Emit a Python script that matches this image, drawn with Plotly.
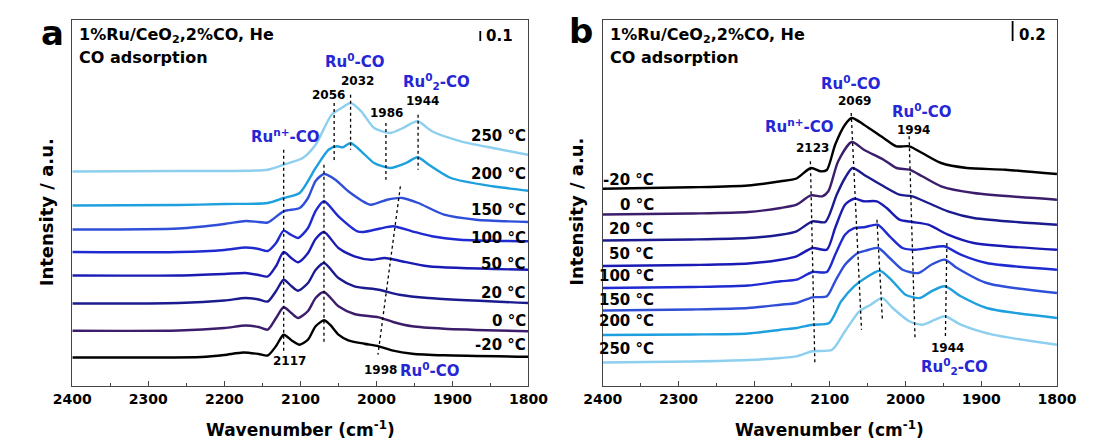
import plotly.graph_objects as go

# ---------------- data ----------------
TEMPS = ["-20", "0", "20", "50", "100", "150", "200", "250"]
COLORS = ["#000000", "#3b1d6b", "#1b1b8f", "#1a1ab5", "#1f2bd0", "#2f4fd8", "#1ea0df", "#8ccfee"]
TICK_VALS = [2400, 2300, 2200, 2100, 2000, 1900, 1800]

# panel a  (wavenumber cm-1, stacked intensity a.u.)
a_wn_m20 = [2400, 2300, 2230, 2200, 2175, 2155, 2143, 2132, 2122, 2111, 2101, 2090, 2080, 2069, 2061, 2050, 2037, 2016, 1997, 1978, 1953, 1911, 1800]
a_int_m20 = [0.285, 0.285, 0.29, 0.31, 0.335, 0.32, 0.305, 0.40, 0.513, 0.453, 0.413, 0.463, 0.597, 0.657, 0.613, 0.513, 0.457, 0.423, 0.397, 0.353, 0.323, 0.307, 0.293]
a_wn_0 = [2400, 2260, 2200, 2172, 2155, 2143, 2132, 2122, 2112, 2103, 2090, 2080, 2069, 2050, 2029, 1997, 1978, 1953, 1911, 1800]
a_int_0 = [0.553, 0.555, 0.58, 0.605, 0.59, 0.563, 0.68, 0.787, 0.73, 0.68, 0.75, 0.88, 0.94, 0.797, 0.72, 0.687, 0.64, 0.597, 0.573, 0.547]
a_wn_20 = [2400, 2260, 2200, 2172, 2155, 2143, 2132, 2122, 2112, 2103, 2090, 2080, 2069, 2050, 2029, 1997, 1970, 1932, 1800]
a_int_20 = [0.825, 0.83, 0.855, 0.88, 0.865, 0.845, 0.95, 1.063, 1.0, 0.953, 1.03, 1.16, 1.23, 1.08, 0.997, 0.963, 0.913, 0.88, 0.83]
a_wn_50 = [2400, 2260, 2200, 2172, 2155, 2143, 2132, 2122, 2112, 2103, 2090, 2080, 2069, 2050, 2029, 2007, 1989, 1970, 1932, 1800]
a_int_50 = [1.105, 1.105, 1.12, 1.13, 1.11, 1.095, 1.20, 1.34, 1.28, 1.237, 1.33, 1.47, 1.54, 1.38, 1.297, 1.263, 1.28, 1.253, 1.197, 1.163]
a_wn_100 = [2400, 2260, 2200, 2172, 2155, 2143, 2132, 2122, 2112, 2103, 2090, 2080, 2069, 2050, 2025, 2017, 1995, 1978, 1953, 1927, 1890, 1800]
a_int_100 = [1.34, 1.34, 1.36, 1.385, 1.37, 1.35, 1.43, 1.553, 1.51, 1.48, 1.58, 1.75, 1.847, 1.697, 1.547, 1.54, 1.575, 1.597, 1.547, 1.497, 1.463, 1.447]
a_wn_150 = [2400, 2260, 2200, 2172, 2155, 2143, 2122, 2101, 2090, 2080, 2069, 2054, 2037, 2008, 1986, 1966, 1945, 1911, 1869, 1800]
a_int_150 = [1.565, 1.575, 1.62, 1.65, 1.64, 1.635, 1.747, 1.78, 1.88, 2.05, 2.12, 2.063, 1.947, 1.813, 1.863, 1.88, 1.83, 1.713, 1.663, 1.64]
a_wn_200 = [2400, 2260, 2200, 2143, 2122, 2101, 2080, 2063, 2052, 2044, 2034, 2020, 2003, 1982, 1961, 1946, 1931, 1902, 1847, 1800]
a_int_200 = [1.805, 1.81, 1.82, 1.83, 1.88, 1.93, 2.18, 2.363, 2.397, 2.387, 2.43, 2.347, 2.23, 2.18, 2.23, 2.287, 2.213, 2.08, 1.997, 1.953]
a_wn_250 = [2400, 2260, 2200, 2143, 2122, 2097, 2080, 2059, 2046, 2034, 2020, 2003, 1982, 1965, 1946, 1927, 1889, 1847, 1800]
a_int_250 = [2.145, 2.15, 2.15, 2.163, 2.213, 2.28, 2.413, 2.713, 2.78, 2.83, 2.747, 2.58, 2.53, 2.58, 2.647, 2.547, 2.447, 2.38, 2.313]

# panel b
b_wn_m20 = [2400, 2283, 2208, 2165, 2144, 2125, 2112, 2104, 2093, 2080, 2071, 2055, 2029, 2012, 1995, 1978, 1953, 1919, 1868, 1800]
b_int_m20 = [1.973, 1.987, 2.005, 2.047, 2.075, 2.18, 2.147, 2.16, 2.413, 2.613, 2.68, 2.613, 2.48, 2.397, 2.397, 2.33, 2.23, 2.18, 2.163, 2.12]
b_wn_0 = [2400, 2283, 2208, 2165, 2144, 2125, 2110, 2102, 2089, 2071, 2055, 2029, 2012, 1995, 1978, 1953, 1910, 1800]
b_int_0 = [1.715, 1.725, 1.74, 1.78, 1.813, 1.907, 1.897, 1.947, 2.247, 2.44, 2.363, 2.263, 2.18, 2.163, 2.097, 1.997, 1.93, 1.863]
b_wn_20 = [2400, 2283, 2208, 2165, 2144, 2123, 2106, 2091, 2080, 2070, 2055, 2029, 2008, 1991, 1970, 1944, 1910, 1800]
b_int_20 = [1.455, 1.465, 1.48, 1.513, 1.547, 1.647, 1.64, 1.913, 2.08, 2.18, 2.113, 1.997, 1.913, 1.897, 1.83, 1.747, 1.68, 1.613]
b_wn_50 = [2400, 2283, 2208, 2165, 2144, 2123, 2104, 2093, 2080, 2068, 2055, 2038, 2025, 2008, 1991, 1970, 1944, 1910, 1800]
b_int_50 = [1.20, 1.21, 1.225, 1.263, 1.297, 1.38, 1.363, 1.58, 1.813, 1.873, 1.847, 1.847, 1.78, 1.663, 1.64, 1.613, 1.513, 1.43, 1.363]
b_wn_100 = [2400, 2283, 2208, 2165, 2144, 2123, 2104, 2093, 2080, 2068, 2055, 2037, 2021, 2004, 1987, 1970, 1949, 1927, 1893, 1800]
b_int_100 = [0.98, 0.99, 1.005, 1.047, 1.063, 1.14, 1.14, 1.313, 1.513, 1.58, 1.587, 1.613, 1.497, 1.38, 1.363, 1.38, 1.397, 1.313, 1.23, 1.163]
b_wn_150 = [2400, 2283, 2208, 2165, 2144, 2123, 2104, 2093, 2080, 2063, 2053, 2036, 2021, 2004, 1983, 1966, 1948, 1932, 1893, 1800]
b_int_150 = [0.755, 0.765, 0.78, 0.813, 0.83, 0.887, 0.897, 1.047, 1.213, 1.33, 1.353, 1.38, 1.28, 1.163, 1.13, 1.213, 1.263, 1.18, 1.03, 0.93]
b_wn_200 = [2400, 2283, 2208, 2165, 2144, 2123, 2101, 2085, 2068, 2053, 2034, 2017, 2000, 1981, 1966, 1948, 1927, 1893, 1800]
b_int_200 = [0.51, 0.515, 0.525, 0.563, 0.58, 0.613, 0.63, 0.847, 0.997, 1.08, 1.153, 1.047, 0.913, 0.88, 0.947, 0.997, 0.897, 0.78, 0.68]
b_wn_250 = [2400, 2283, 2208, 2165, 2144, 2123, 2097, 2080, 2061, 2046, 2031, 2017, 1995, 1978, 1961, 1948, 1927, 1885, 1800]
b_int_250 = [0.235, 0.245, 0.26, 0.28, 0.297, 0.347, 0.363, 0.547, 0.747, 0.813, 0.88, 0.78, 0.647, 0.613, 0.663, 0.697, 0.613, 0.513, 0.413]

# temperature label heights (intensity) for each panel
a_label_int = [0.413, 0.647, 0.93, 1.22, 1.48, 1.763, 2.12, 2.497]
b_label_int = [2.063, 1.813, 1.573, 1.32, 1.097, 0.863, 0.647, 0.373]

# peak guide lines: (wn_top, int_top, wn_bottom, int_bottom)
a_guides = [(2122, 2.363, 2122, 0.347), (2069, 2.213, 2069, 0.43), (2055.6, 2.83, 2055.6, 2.23),
            (2034, 2.913, 2034, 2.363), (1987.5, 2.63, 1987.5, 2.063), (1945.2, 2.713, 1945.2, 2.163),
            (1968.5, 1.997, 1998, 0.313)]
b_guides = [(2125.7, 2.247, 2119.8, 0.23), (2071.8, 2.73, 2058.2, 0.563), (1995.3, 2.497, 1987.5, 0.48),
            (2037.8, 1.663, 2030.6, 0.663), (1945.4, 1.43, 1947.4, 0.48)]

panel_a = [(a_wn_m20, a_int_m20), (a_wn_0, a_int_0), (a_wn_20, a_int_20), (a_wn_50, a_int_50),
           (a_wn_100, a_int_100), (a_wn_150, a_int_150), (a_wn_200, a_int_200), (a_wn_250, a_int_250)]
panel_b = [(b_wn_m20, b_int_m20), (b_wn_0, b_int_0), (b_wn_20, b_int_20), (b_wn_50, b_int_50),
           (b_wn_100, b_int_100), (b_wn_150, b_int_150), (b_wn_200, b_int_200), (b_wn_250, b_int_250)]

# ---------------- figure ----------------
W, H = 1095, 443
FONT = "DejaVu Sans"
BLUE = "#2626d4"


def px(x):
    return x / W


def py(y):
    return 1 - y / H


fig = go.Figure()

for panel, (xa, ya) in ((panel_a, ("x", "y")), (panel_b, ("x2", "y2"))):
    for (wn, inten), col in zip(panel, COLORS):
        fig.add_trace(go.Scatter(x=wn, y=inten, mode="lines", xaxis=xa, yaxis=ya,
                                 line=dict(color=col, width=2.4, shape="spline", smoothing=0.7),
                                 hoverinfo="skip", showlegend=False))

annotations = []
shapes = []


def ann(text, x, y, size, xref="paper", yref="paper", color="black", xanchor="center",
        yanchor="middle", angle=0):
    annotations.append(dict(text="<b>%s</b>" % text, x=x, y=y, xref=xref, yref=yref,
                            showarrow=False, xanchor=xanchor, yanchor=yanchor, textangle=angle,
                            font=dict(family=FONT, size=size, color=color)))


# guide lines
for guides, xr, yr in ((a_guides, "x", "y"), (b_guides, "x2", "y2")):
    for w0, i0, w1, i1 in guides:
        shapes.append(dict(type="line", xref=xr, yref=yr, x0=w0, y0=i0, x1=w1, y1=i1,
                           line=dict(color="black", width=1.3, dash="dot")))

# temperature labels
for t, v in zip(TEMPS, a_label_int):
    ann("%s °C" % t, 1801, v, 15, "x", "y", xanchor="right")
for t, v in zip(TEMPS, b_label_int):
    ann("%s °C" % t, 2329, v, 15, "x2", "y2", xanchor="right")

# panel a peak labels
ann("2117", 2113.7, 0.247, 12, "x", "y")
ann("1998", 1994.5, 0.163, 12, "x", "y")
ann("Ru<sup>0</sup>-CO", 1929.4, 0.163, 15, "x", "y", color=BLUE)
ann("Ru<sup>n+</sup>-CO", 2119.7, 2.497, 15, "x", "y", color=BLUE)
ann("2056", 2062.6, 2.913, 12, "x", "y")
ann("2032", 2024.5, 3.047, 12, "x", "y")
ann("Ru<sup>0</sup>-CO", 2028.3, 3.25, 15, "x", "y", color=BLUE)
ann("Ru<sup>0</sup><sub>2</sub>-CO", 1920.5, 3.047, 15, "x", "y", color=BLUE)
ann("1986", 1986.5, 2.73, 12, "x", "y")
ann("1944", 1939.5, 2.847, 12, "x", "y")

# panel b peak labels
ann("Ru<sup>0</sup>-CO", 2071.7, 3.03, 15, "x2", "y2", color=BLUE)
ann("2069", 2067.5, 2.847, 12, "x2", "y2")
ann("Ru<sup>n+</sup>-CO", 2139.7, 2.597, 15, "x2", "y2", color=BLUE)
ann("2123", 2122.7, 2.38, 12, "x2", "y2")
ann("Ru<sup>0</sup>-CO", 1978.3, 2.747, 15, "x2", "y2", color=BLUE)
ann("1994", 1989, 2.563, 12, "x2", "y2")
ann("1944", 1944.3, 0.38, 12, "x2", "y2")
ann("Ru<sup>0</sup><sub>2</sub>-CO", 1936, 0.197, 15, "x2", "y2", color=BLUE)

# scale bars (0.1 and 0.2 a.u.)
shapes.append(dict(type="line", xref="x", yref="y", x0=1863.4, x1=1863.4, y0=3.45, y1=3.55,
                   line=dict(color="black", width=1.8)))
ann("0.1", 1858.4, 3.50, 15, "x", "y", xanchor="left")
shapes.append(dict(type="line", xref="x2", yref="y2", x0=1858.6, x1=1858.6, y0=3.45, y1=3.65,
                   line=dict(color="black", width=1.8)))
ann("0.2", 1852.2, 3.51, 15, "x2", "y2", xanchor="left")

# header texts
for x0 in (52, 602):
    ann("1%Ru/CeO<sub>2</sub>,2%CO, He", px(x0), py(28), 16, xanchor="left")
    ann("CO adsorption", px(x0), py(50), 16, xanchor="left")

# panel letters
ann("a", px(26), py(25), 34)
ann("b", px(574), py(23), 34)

# axis titles
ann("Wavenumber (cm<sup>-1</sup>)", px(283.5), py(421), 17)
ann("Wavenumber (cm<sup>-1</sup>)", px(832.5), py(421), 17)
ann("Intensity / a.u.", px(20), py(204), 18, angle=-90)
ann("Intensity / a.u.", px(569), py(204), 18, angle=-90)

axis_common = dict(showline=True, mirror=True, linecolor="#444", linewidth=1, showgrid=False,
                   zeroline=False)
xcommon = dict(axis_common, range=[2400, 1800], ticks="inside", ticklen=5, tickwidth=1,
               tickcolor="#444", tickmode="array", tickvals=TICK_VALS,
               ticktext=[str(v) for v in TICK_VALS],
               tickfont=dict(family=FONT, size=14, color="black", weight="bold"),
               minor=dict(ticks="inside", ticklen=3, tickcolor="#444", dtick=50, tick0=1800,
                          showgrid=False))
ycommon = dict(axis_common, range=[0, 3.66], showticklabels=False, ticks="")

fig.update_layout(
    width=W, height=H, margin=dict(l=0, r=0, t=0, b=0),
    paper_bgcolor="white", plot_bgcolor="white", showlegend=False,
    xaxis=dict(xcommon, domain=[px(47), px(520)], anchor="y"),
    yaxis=dict(ycommon, domain=[py(378), py(12)], anchor="x"),
    xaxis2=dict(xcommon, domain=[px(597), px(1068)], anchor="y2"),
    yaxis2=dict(ycommon, domain=[py(378), py(12)], anchor="x2"),
    annotations=annotations, shapes=shapes,
)

fig.write_html("out.html")
